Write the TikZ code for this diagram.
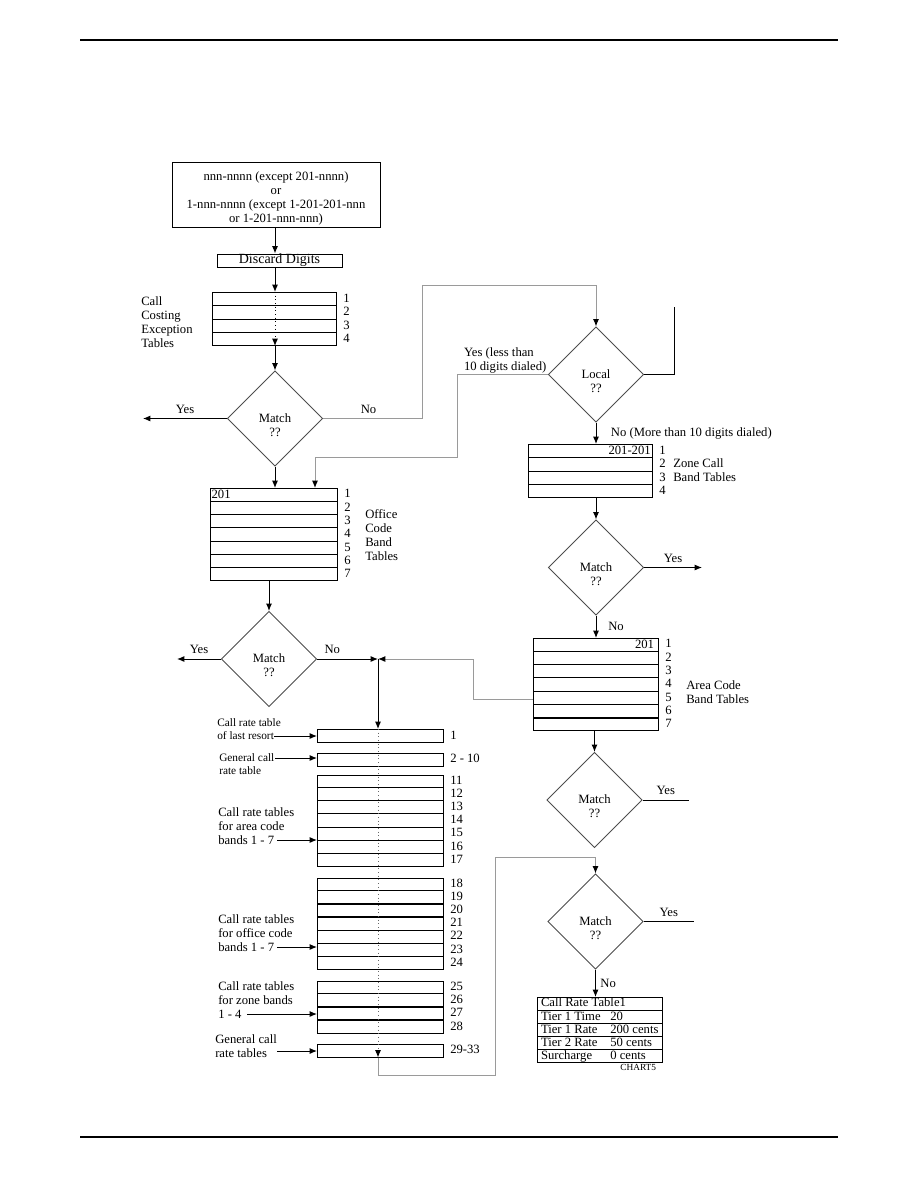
\documentclass[tikz,border=0pt]{standalone}
\usepackage{fontspec}
\setmainfont{Liberation Serif}
\usetikzlibrary{arrows.meta,positioning,calc,shapes.geometric}
\definecolor{LineGray}{HTML}{9A9A9A}
\definecolor{DiaGray}{HTML}{4D4D4D}
\newcommand\dtext[1]{\rule{0pt}{16pt}#1\\??}

\begin{document}
\begin{tikzpicture}[x=0.75pt,y=-0.75pt,>={Latex[length=5.5pt,width=4.5pt]},
  font=\fontsize{9.5}{10.5}\selectfont,
  box/.style={draw,line width=0.75pt,inner sep=0pt,align=center},
  tbl/.style={draw,line width=0.75pt,inner sep=0pt,anchor=north west},
  dia/.style={diamond,draw=DiaGray,line width=0.6pt,inner sep=0pt,
    minimum width=71.5pt,minimum height=71.5pt,align=center},
  num/.style={anchor=west,inner sep=0pt,xshift=4.5pt,text height=7pt,text depth=2pt},
  cell/.style={anchor=west,inner sep=0pt,text height=7pt,text depth=2pt},
  lab/.style={anchor=west,align=left,inner sep=0pt},
  smalllab/.style={lab,font=\fontsize{8.5}{9.75}\selectfont},
  line/.style={line width=0.75pt},
  arr/.style={->,line width=0.75pt},
  garr/.style={-{Latex[length=5.5pt,width=4.5pt,color=black]},draw=LineGray,line width=0.75pt}]
\useasboundingbox (0,0) rectangle (918,1188);
\draw[line width=2.2pt] (80,40) -- (838,40);
\draw[line width=2.2pt] (80,1137) -- (838,1137);

\node[box,minimum width=156pt,minimum height=48.75pt] (src) at (276,194.5)
  {\rule{0pt}{12pt}nnn-nnnn (except 201-nnnn)\\or\\1-nnn-nnnn (except 1-201-201-nnn\\or 1-201-nnn-nnn)};
\node[box,minimum width=93.75pt,minimum height=9.75pt,font=\fontsize{10.5}{11}\selectfont] (disc) at (279.5,260.5) {Discard Digits};
\node[tbl,minimum width=93pt,minimum height=39.75pt] (cce) at (212,292) {};
\node[lab] (ccel) at (141,322) {Call\\Costing\\Exception\\Tables};
\node[dia] (m1) at (275,418.5) {\dtext{Match}};
\node[dia] (lc) at (596,374.5) {\dtext{Local}};
\node[tbl,minimum width=95.25pt,minimum height=69pt] (oct) at (210,488) {};
\node[anchor=north west,inner sep=1pt] (oct201) at (oct.north west) {201};
\node[lab] (octl) at (365,535.5) {Office\\Code\\Band\\Tables};
\node[dia] (m2) at (269,659) {\dtext{Match}};
\coordinate (j) at (378,659);

\node[tbl,minimum width=94.5pt,minimum height=9.75pt] (r1) at (317,729) {};
\node[tbl,minimum width=94.5pt,minimum height=9.75pt] (r2) at (317,752.5) {};
\node[tbl,minimum width=94.5pt,minimum height=68.25pt] (r3) at (317,774.5) {};
\node[tbl,minimum width=94.5pt,minimum height=68.25pt] (r4) at (317,877.5) {};
\node[tbl,minimum width=94.5pt,minimum height=39pt] (r5) at (317,980.5) {};
\node[tbl,minimum width=94.5pt,minimum height=9.75pt] (r6) at (317,1043.5) {};
\node[smalllab] (l1) at (217,729.5) {Call rate table\\of last resort};
\node[smalllab] (l2) at (219,763.7) {General call\\rate table};
\node[lab] (l3) at (218,826) {Call rate tables\\for area code\\bands 1 - 7};
\node[lab] (l4) at (218,933) {Call rate tables\\for office code\\bands 1 - 7};
\node[lab] (l5) at (218,1000) {Call rate tables\\for zone bands\\1 - 4};
\node[lab] (l6) at (215,1046) {General call\\rate tables};

\node[tbl,minimum width=93pt,minimum height=39.75pt] (zt) at (528,444) {};
\node[anchor=north east,inner sep=1.5pt] (zt201) at (zt.north east) {201-201};
\node[lab] (ztl) at (673,470) {Zone Call\\Band Tables};
\node[dia] (m3) at (596,567.5) {\dtext{Match}};
\node[tbl,minimum width=93.75pt,minimum height=69pt] (at) at (533,638) {};
\node[anchor=north east,inner sep=1pt,xshift=-2.5pt] (at201) at (at.north east) {201};
\node[lab] (atl) at (686,692) {Area Code\\Band Tables};
\node[dia] (m4) at (594.5,800) {\dtext{Match}};
\node[dia] (m5) at (595.5,921.5) {\dtext{Match}};
\node[tbl,minimum width=93.75pt,minimum height=48.75pt] (crt) at (537,997) {};
\node[anchor=north east,inner sep=1pt,xshift=-4pt,font=\fontsize{7}{8}\selectfont] (chart) at (crt.south east) {CHART5};

\foreach \t/\n in {cce/4,oct/7,zt/4,at/7,r3/7,r4/7,r5/4,crt/5} {
  \pgfmathtruncatemacro\m{\n-1}
  \foreach \i in {1,...,\m} {
    \pgfmathsetmacro\f{\i/\n}
    \draw[line] ($(\t.north west)!\f!(\t.south west)$) -- ($(\t.north east)!\f!(\t.south east)$);
  }
}
\foreach \t/\i/\n in {at/6/7,r4/2/7,r4/3/7,r5/2/4,r5/3/4} {
  \pgfmathsetmacro\f{\i/\n}
  \draw[line width=1.6pt] ($(\t.north west)!\f!(\t.south west)$) -- ($(\t.north east)!\f!(\t.south east)$);
}
\foreach \t/\n in {cce/4,oct/7,zt/4,at/7} {
  \foreach \i in {1,...,\n} {
    \pgfmathsetmacro\f{(\i-0.5)/\n}
    \node[num] (n\t\i) at ($(\t.north east)!\f!(\t.south east)$) {\i};
  }
}
\foreach \t/\s/\n in {r3/11/7,r4/18/7,r5/25/4} {
  \foreach \i in {1,...,\n} {
    \pgfmathtruncatemacro\k{\s+\i-1}
    \pgfmathsetmacro\f{(\i-0.5)/\n}
    \node[num] (n\t\i) at ($(\t.north east)!\f!(\t.south east)$) {\k};
  }
}
\node[num] (nr1) at (r1.east) {1};
\node[num] (nr2) at (r2.east) {2 - 10};
\node[num] (nr6) at (r6.east) {29-33};
\foreach \i/\a/\b in {1/Call Rate Table1/,2/Tier 1 Time/20,3/Tier 1 Rate/200 cents,4/Tier 2 Rate/50 cents,5/Surcharge/0 cents} {
  \pgfmathsetmacro\f{(\i-0.5)/5}
  \node[cell,xshift=2.8pt] (ca\i) at ($(crt.north west)!\f!(crt.south west)$) {\a};
  \node[cell] (cb\i) at ($(crt.north west)!\f!(crt.south west)+(73,0)$) {\b};
}

\draw[arr] (src.south -| m1.north) -- (m1.north |- disc.north);
\draw[arr] (disc.south -| m1.north) -- (m1.north |- cce.north);
\draw[line,dotted,->] (m1.north |- cce.north) -- (m1.north |- cce.south);
\draw[arr] (m1.north |- cce.south) -- (m1.north);
\coordinate (yes1) at (143,418.5);
\draw[arr] (m1.west) -- (yes1) node[midway,above] {Yes};
\coordinate (g1) at (422,285);
\draw[garr] (m1.east) -| (g1) node[pos=0.23,above,text=black] {No} -| (lc.north);
\coordinate (rt) at (674,307);
\draw[line] (lc.east) -| (rt);
\node[anchor=south east,align=left,inner sep=1pt] (lyes) at (lc.west) {Yes (less than\\10 digits dialed)};
\coordinate (g2) at (457,457);
\coordinate (g3) at (315,457);
\draw[garr] (lc.west) -| (g2) -- (g3) -- (g3 |- oct.north);
\draw[arr] (m1.south) -- (m1.south |- oct.north);
\draw[arr] (m2.north |- oct.south) -- (m2.north);
\coordinate (yes2) at (177,659);
\draw[arr] (m2.west) -- (yes2) node[midway,above] {Yes};
\draw[arr] (m2.east) -- (j) node[pos=0.25,above] {No};
\coordinate (g4) at ($(at.north west)!0.66!(at.south west)$);
\coordinate (g5) at (473,659);
\draw[garr] (g4) -| (g5) -- (j);
\draw[arr] (j) -- (j |- r1.north);
\draw[dotted,draw=black!60,line width=0.75pt,-{Latex[length=5.5pt,width=4.5pt,color=black]}] (j |- r1.north) -- (j |- r6.south);
\coordinate (g6) at (495,1075);
\coordinate (g7) at (495,857);
\draw[garr] (j |- r6.south) |- (g6) -- (g7) -| (m5.north);
\foreach \x/\y/\t in {274/736/r1,275/758/r2,277/840/r3,277/947/r4,247/1014/r5,277/1051/r6} {
  \coordinate (s\t) at (\x,\y);
  \draw[arr] (s\t) -- (s\t -| \t.west);
}

\draw[arr] (lc.south) -- (lc.south |- zt.north)
  node[midway,anchor=west,xshift=7.5pt] {No (More than 10 digits dialed)};
\draw[arr] (m3.north |- zt.south) -- (m3.north);
\coordinate (yes3) at (702,567.5);
\draw[arr] (m3.east) -- (yes3) node[midway,above] {Yes};
\draw[arr] (m3.south) -- (m3.south |- at.north) node[midway,right=5.5pt] {No};
\draw[arr] (m4.north |- at.south) -- (m4.north);
\coordinate (yes4) at (689,800);
\draw[line] (m4.east) -- (yes4) node[midway,above] {Yes};
\coordinate (yes5) at (694,921.5);
\draw[line] (m5.east) -- (yes5) node[midway,above] {Yes};
\draw[arr] (m5.south) -- (m5.south |- crt.north) node[midway,right] {No};
\end{tikzpicture}
\end{document}
